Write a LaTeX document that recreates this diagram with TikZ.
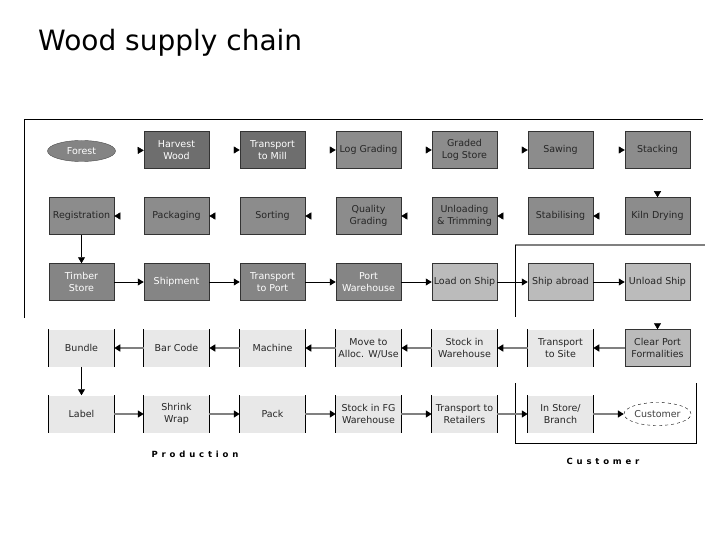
\documentclass[tikz,border=0pt]{standalone}
\usepackage{fontspec}
\setmainfont{DejaVu Sans}
\usetikzlibrary{arrows.meta, positioning, shapes.geometric}

\definecolor{darkbox}{HTML}{6E6E6E}
\definecolor{midbox}{HTML}{8C8C8C}
\definecolor{shipbox}{HTML}{858585}
\definecolor{lightbox}{HTML}{BBBBBB}
\definecolor{palebox}{HTML}{E8E8E8}
\definecolor{linkgray}{HTML}{808080}

\begin{document}
\begin{tikzpicture}[x=1pt, y=-1pt,
    box/.style={rectangle, minimum width=65pt, minimum height=37pt, inner sep=0pt, align=center,
        font=\fontsize{9.5}{12}\selectfont, draw=black!80, line width=0.5pt},
    darkstep/.style={box, fill=darkbox, text=white},
    midstep/.style={box, fill=midbox, text=black!85},
    shipstep/.style={box, fill=shipbox, text=white},
    lightstep/.style={box, fill=lightbox, text=black!85},
    palestep/.style={box, draw=none, fill=palebox, text=black!85,
        append after command={(\tikzlastnode.north west) edge[draw=black, line width=0.6pt] (\tikzlastnode.south west)
            (\tikzlastnode.north east) edge[draw=black, line width=0.6pt] (\tikzlastnode.south east)}},
    tiponly/.style={draw=white, shorten <=3pt, -{Triangle[black, length=6pt, width=7pt]}},
    flow/.style={draw=black, line width=0.6pt, -{Triangle[length=6pt, width=7pt]}},
    greyflow/.style={draw=linkgray, line width=1.4pt, -{Triangle[black, length=6pt, width=7pt]}},
    sectionname/.style={font=\fontsize{8.5}{10}\selectfont\bfseries\addfontfeature{LetterSpace=45}}
]
    % Page
    \fill[white] (0,0) rectangle (720,540);
    \node[anchor=base west, inner sep=0pt, font=\fontsize{28}{32}\selectfont] (title) at (38,51) {Wood supply chain};

    % Frames
    \draw[black, line width=0.8pt] (24,318) -- (24,119) -- (703,119);
    \draw[linkgray, line width=1.6pt] (515,245) -- (705,245);
    \draw[black, line width=0.8pt] (515,245) -- (515,317);
    \draw[black, line width=0.8pt] (515,383) -- (515,443) -- (696,443) -- (696,383);

    % Row 1
    \node[ellipse, minimum width=68pt, minimum height=21pt, inner sep=0pt, fill=darkbox!85, draw=black!70,
        text=white, font=\fontsize{9.5}{12}\selectfont] (forest) at (81.5,151) {Forest};
    \node[darkstep] (harvest) at (176.5,150) {Harvest\\Wood};
    \node[darkstep] (millmove) at (272.5,150) {Transport\\to Mill};
    \node[midstep] (loggrade) at (368.5,150) {Log Grading};
    \node[midstep] (logstore) at (464.5,150) {Graded\\Log Store};
    \node[midstep] (sawing) at (560.5,150) {Sawing};
    \node[midstep] (stacking) at (657.5,150) {Stacking};

    % Row 2
    \node[midstep] (registration) at (81.5,216) {Registration};
    \node[midstep] (packaging) at (176.5,216) {Packaging};
    \node[midstep] (sorting) at (272.5,216) {Sorting};
    \node[midstep] (qualgrade) at (368.5,216) {Quality\\Grading};
    \node[midstep] (unloading) at (464.5,216) {Unloading\\\& Trimming};
    \node[midstep] (stabilising) at (560.5,216) {Stabilising};
    \node[midstep] (kiln) at (657.5,216) {Kiln Drying};

    % Row 3
    \node[shipstep] (timber) at (81.5,282) {Timber\\Store};
    \node[shipstep] (shipment) at (176.5,282) {Shipment};
    \node[shipstep] (portmove) at (272.5,282) {Transport\\to Port};
    \node[shipstep] (portstore) at (368.5,282) {Port\\Warehouse};
    \node[lightstep] (loadship) at (464.5,282) {Load on Ship};
    \node[lightstep] (abroad) at (560.5,282) {Ship abroad};
    \node[lightstep] (unloadship) at (657.5,282) {Unload Ship};

    % Row 4
    \node[palestep] (bundle) at (81.5,348) {Bundle};
    \node[palestep] (barcode) at (176.5,348) {Bar Code};
    \node[palestep] (machine) at (272.5,348) {Machine};
    \node[palestep] (alloc) at (368.5,348) {Move to\\Alloc. W/Use};
    \node[palestep] (stockwh) at (464.5,348) {Stock in\\Warehouse};
    \node[palestep] (sitemove) at (560.5,348) {Transport\\to Site};
    \node[lightstep] (clearport) at (657.5,348) {Clear Port\\Formalities};

    % Row 5
    \node[palestep] (labelling) at (81.5,414) {Label};
    \node[palestep] (shrink) at (176.5,414) {Shrink\\Wrap};
    \node[palestep] (pack) at (272.5,414) {Pack};
    \node[palestep] (stockfg) at (368.5,414) {Stock in FG\\Warehouse};
    \node[palestep] (retail) at (464.5,414) {Transport to\\Retailers};
    \node[palestep] (instore) at (560.5,414) {In Store/\\Branch};
    \node[ellipse, minimum width=67pt, minimum height=23pt, inner sep=0pt, fill=white, draw=black, dashed,
        text=black!75, font=\fontsize{9.5}{12}\selectfont] (customer) at (657.5,414) {Customer};

    % Connectors
    \draw[tiponly] (forest) -- (harvest);
    \draw[tiponly] (harvest) -- (millmove);
    \draw[tiponly] (millmove) -- (loggrade);
    \draw[tiponly] (loggrade) -- (logstore);
    \draw[tiponly] (logstore) -- (sawing);
    \draw[tiponly] (sawing) -- (stacking);
    \draw[tiponly] (stacking) -- (kiln);
    \draw[tiponly] (kiln) -- (stabilising);
    \draw[tiponly] (stabilising) -- (unloading);
    \draw[tiponly] (unloading) -- (qualgrade);
    \draw[tiponly] (qualgrade) -- (sorting);
    \draw[tiponly] (sorting) -- (packaging);
    \draw[tiponly] (packaging) -- (registration);
    \draw[flow] (registration) -- (timber);
    \draw[flow] (timber) -- (shipment);
    \draw[flow] (shipment) -- (portmove);
    \draw[flow] (portmove) -- (portstore);
    \draw[flow] (portstore) -- (loadship);
    \draw[flow] (loadship) -- (abroad);
    \draw[flow] (abroad) -- (unloadship);
    \draw[tiponly] (unloadship) -- (clearport);
    \draw[greyflow] (clearport) -- (sitemove);
    \draw[greyflow] (sitemove) -- (stockwh);
    \draw[greyflow] (stockwh) -- (alloc);
    \draw[greyflow] (alloc) -- (machine);
    \draw[greyflow] (machine) -- (barcode);
    \draw[greyflow] (barcode) -- (bundle);
    \draw[flow] (bundle) -- (labelling);
    \draw[greyflow] (labelling) -- (shrink);
    \draw[greyflow] (shrink) -- (pack);
    \draw[greyflow] (pack) -- (stockfg);
    \draw[greyflow] (stockfg) -- (retail);
    \draw[greyflow] (retail) -- (instore);
    \draw[greyflow] (instore) -- (customer);

    % Section names
    \node[sectionname] (production) at (195,454) {Production};
    \node[sectionname] (customers) at (603,461) {Customer};
\end{tikzpicture}
\end{document}
